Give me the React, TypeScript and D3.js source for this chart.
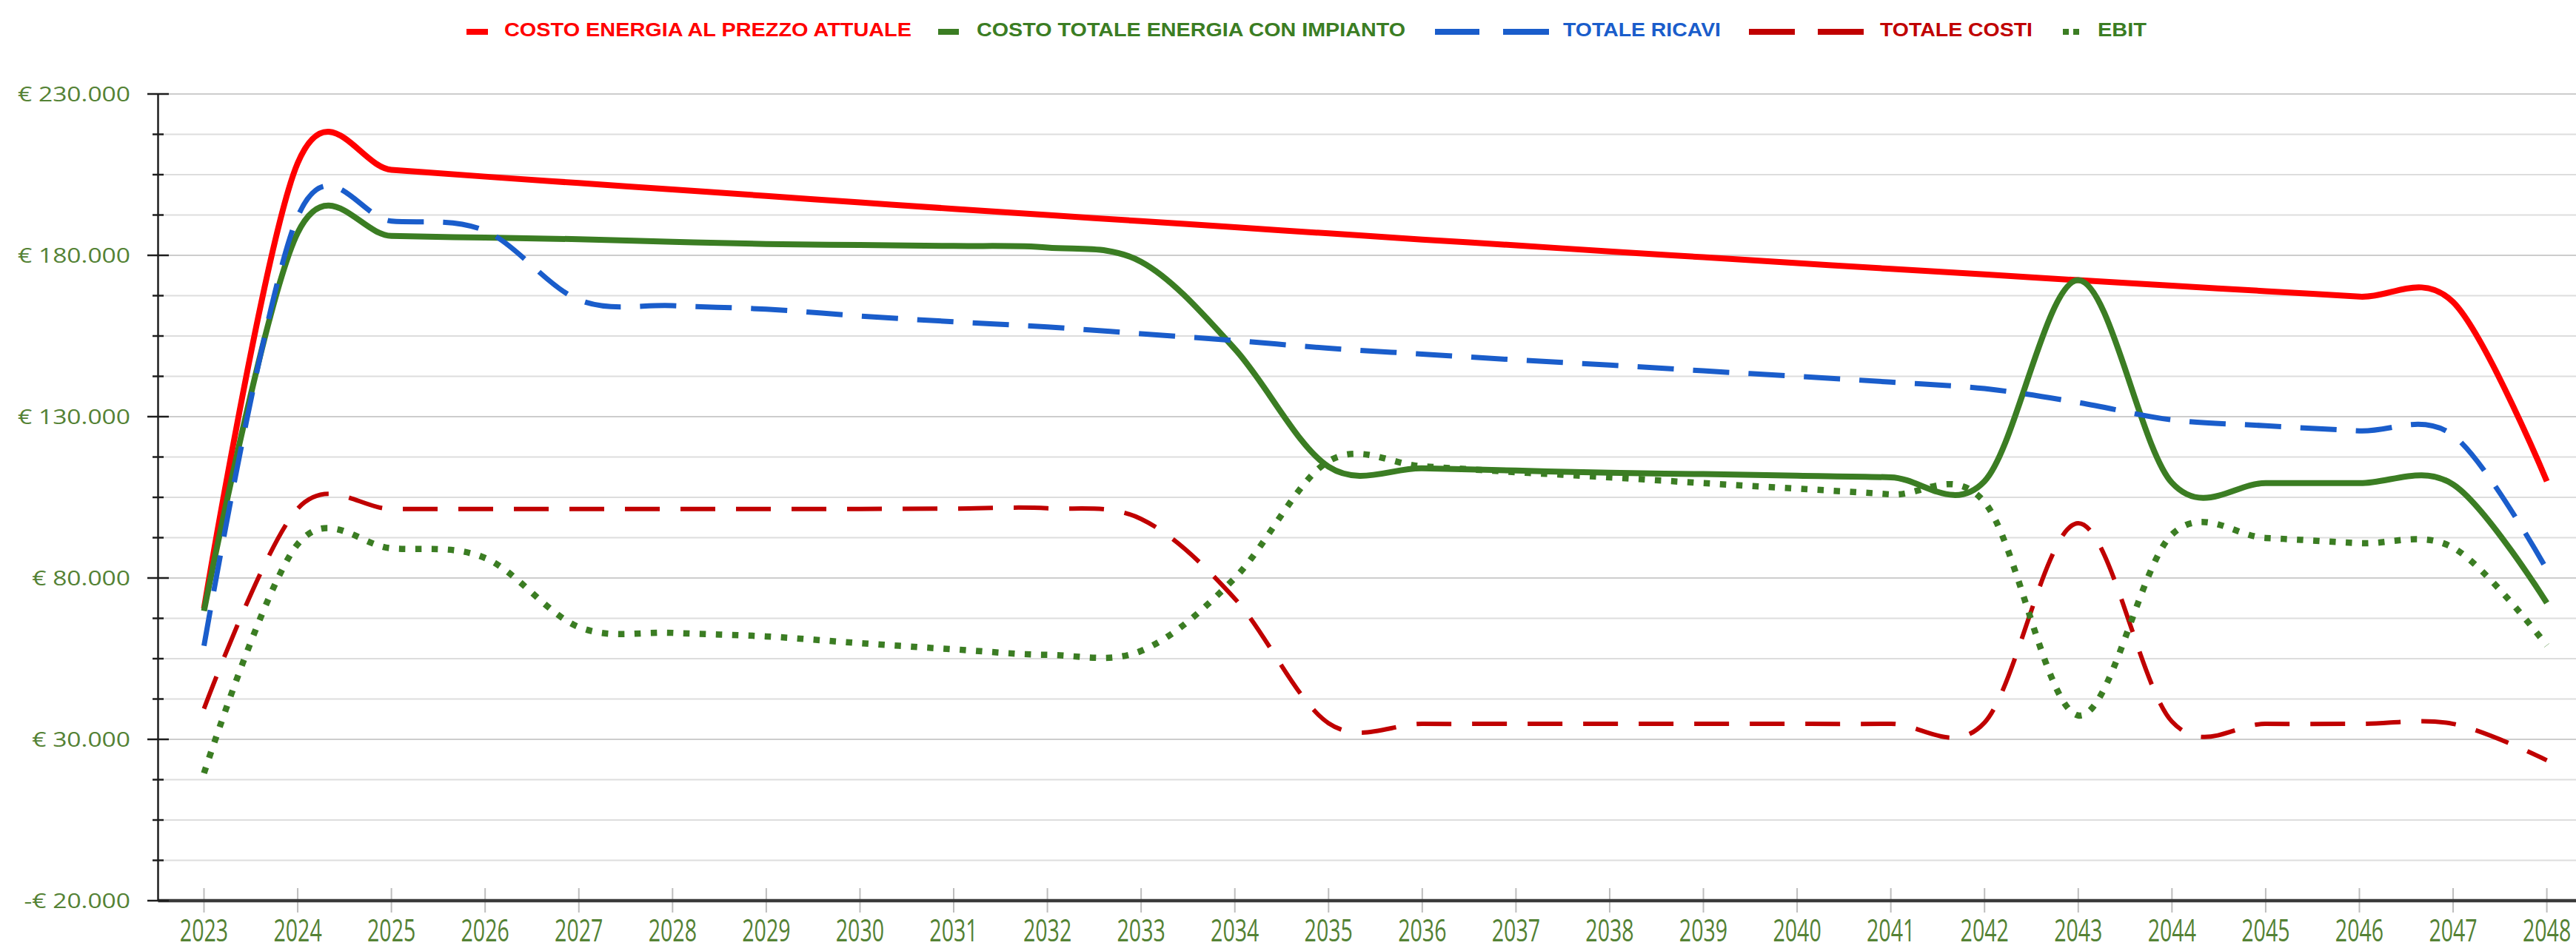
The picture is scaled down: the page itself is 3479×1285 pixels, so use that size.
import React, {useEffect, useRef} from 'react';
import * as d3 from 'd3';

// anni sull'asse x
const years = [
  '2023', '2024', '2025', '2026', '2027', '2028', '2029', '2030', '2031',
  '2032', '2033', '2034', '2035', '2036', '2037', '2038', '2039', '2040',
  '2041', '2042', '2043', '2044', '2045', '2046', '2047', '2048',
];

// valori in euro
const costoEnergiaAttuale = [
  70500, 208600, 206500, 204400, 202400, 200400, 198400, 196400, 194400,
  192500, 190600, 188700, 186800, 184900, 183100, 181200, 179400, 177600,
  175800, 174100, 172300, 170600, 168900, 167200, 165500, 110000,
];
const costoTotaleConImpianto = [
  69800, 187000, 186000, 185500, 185000, 184200, 183500, 183200, 182900,
  182400, 178000, 151000, 114500, 114000, 113300, 112600, 112200, 111700,
  111200, 110000, 172300, 109500, 109400, 109400, 109000, 72300,
];
const totaleRicavi = [
  59000, 192000, 190600, 187600, 166200, 164400, 163300, 161200, 159400,
  157800, 155700, 153600, 151200, 149400, 147600, 146000, 144200, 142500,
  140700, 138700, 134400, 129000, 127200, 125600, 124200, 82600,
];
const totaleCosti = [
  39500, 101500, 101400, 101400, 101400, 101400, 101400, 101400, 101500,
  101600, 98300, 73600, 35000, 34800, 34800, 34800, 34800, 34800,
  34800, 35200, 97000, 35500, 34800, 34800, 34800, 23500,
];
const ebit = [
  19500, 90500, 89200, 86200, 64800, 63000, 61900, 59800, 57900,
  56200, 57400, 80000, 116200, 114600, 112800, 111200, 109400, 107700,
  105900, 103500, 37400, 93500, 92400, 90800, 89400, 59100,
];

const yMin = -20000;
const yMax = 230000;
const yStep = 12500;

const W = 3479;
const H = 1285;

const series = [
  {name: 'COSTO ENERGIA AL PREZZO ATTUALE', values: costoEnergiaAttuale, color: '#FF0000', width: 8, dash: null},
  {name: 'COSTO TOTALE ENERGIA CON IMPIANTO', values: costoTotaleConImpianto, color: '#3B7D23', width: 8, dash: null},
  {name: 'TOTALE RICAVI', values: totaleRicavi, color: '#1A5DCB', width: 7, dash: '49 26'},
  {name: 'TOTALE COSTI', values: totaleCosti, color: '#C00000', width: 6, dash: '47 28'},
  {name: 'EBIT', values: ebit, color: '#3B7D23', width: 8.5, dash: '8.5 13.5'},
];

// posizione legenda (marker x0..x1, testo x e larghezza)
const legendLayout = [
  {marks: [[630, 659]], dash: null, tx: 681, tw: 550},
  {marks: [[1267, 1295]], dash: null, tx: 1319, tw: 579},
  {marks: [[1938, 1998], [2030, 2092]], dash: null, tx: 2111, tw: 213},
  {marks: [[2362, 2424], [2455, 2517]], dash: null, tx: 2539, tw: 206},
  {marks: [[2786, 2808]], dash: '8 6', tx: 2833, tw: 66},
];

const App = () => {
  const svgRef = useRef(null);

  useEffect(() => {
    const svg = d3.select(svgRef.current);
    svg.selectAll('*').remove();

    const left = 213.5;
    const x = d3.scalePoint().domain(years).range([275.5, 3439.6]);
    const y = d3.scaleLinear().domain([yMin, yMax]).range([1217, 127]);

    svg.append('rect').attr('width', W).attr('height', H).attr('fill', '#fff');

    const ticks = d3.range(yMin, yMax + 1, yStep);
    const isMajor = v => (v - yMin) % 50000 === 0;

    // griglia
    svg
      .append('g')
      .selectAll('line')
      .data(ticks.filter(t => t !== yMin))
      .enter()
      .append('line')
      .attr('x1', left)
      .attr('x2', W)
      .attr('y1', d => y(d))
      .attr('y2', d => y(d))
      .attr('stroke', d => (isMajor(d) ? '#cdcdcd' : '#dddddd'))
      .attr('stroke-width', 2);

    // tacche asse x
    svg
      .append('g')
      .selectAll('line')
      .data(years)
      .enter()
      .append('line')
      .attr('x1', d => x(d))
      .attr('x2', d => x(d))
      .attr('y1', 1200)
      .attr('y2', 1233)
      .attr('stroke', '#bdbdbd')
      .attr('stroke-width', 2);

    // asse x
    svg
      .append('line')
      .attr('x1', left)
      .attr('x2', W)
      .attr('y1', y(yMin))
      .attr('y2', y(yMin))
      .attr('stroke', '#3a3a3a')
      .attr('stroke-width', 4.5);

    // asse y
    svg
      .append('line')
      .attr('x1', left)
      .attr('x2', left)
      .attr('y1', y(yMax))
      .attr('y2', y(yMin))
      .attr('stroke', '#1e1e1e')
      .attr('stroke-width', 2.5);

    svg
      .append('g')
      .selectAll('line')
      .data(ticks)
      .enter()
      .append('line')
      .attr('x1', d => (isMajor(d) ? 199 : 206))
      .attr('x2', d => (isMajor(d) ? 228 : 221))
      .attr('y1', d => y(d))
      .attr('y2', d => y(d))
      .attr('stroke', '#1e1e1e')
      .attr('stroke-width', 2.5);

    const locale = d3.formatLocale({decimal: ',', thousands: '.', grouping: [3], currency: ['€ ', '']});
    const fmt = locale.format(',.0f');

    svg
      .append('g')
      .selectAll('g')
      .data(ticks.filter(isMajor))
      .enter()
      .append('g')
      .attr('transform', d => `translate(176,${y(d)}) scale(1.2,1)`)
      .append('text')
      .attr('text-anchor', 'end')
      .attr('dy', '0.36em')
      .attr('font-family', '"Open Sans", sans-serif')
      .attr('font-size', 28)
      .attr('fill', '#548235')
      .text(d => (d < 0 ? '-' : '') + '€ ' + fmt(Math.abs(d)));

    svg
      .append('g')
      .selectAll('g')
      .data(years)
      .enter()
      .append('g')
      .attr('transform', d => `translate(${x(d)},1272) scale(0.68,1)`)
      .append('text')
      .attr('text-anchor', 'middle')
      .attr('font-family', '"Open Sans", sans-serif')
      .attr('font-size', 42)
      .attr('fill', '#548235')
      .text(d => d);

    // linee smussate
    const line = d3
      .line()
      .x((d, i) => x(years[i]))
      .y(d => y(d))
      .curve(d3.curveCatmullRom.alpha(0));

    series.forEach(s => {
      svg
        .append('path')
        .attr('d', line(s.values))
        .attr('fill', 'none')
        .attr('stroke', s.color)
        .attr('stroke-width', s.width)
        .attr('stroke-dasharray', s.dash)
        .attr('stroke-linejoin', 'round');
    });

    // legenda
    const leg = svg.append('g');
    series.forEach((s, i) => {
      const l = legendLayout[i];
      l.marks.forEach(([a, b]) => {
        leg
          .append('line')
          .attr('x1', a)
          .attr('x2', b)
          .attr('y1', 43)
          .attr('y2', 43)
          .attr('stroke', s.color)
          .attr('stroke-width', 8)
          .attr('stroke-dasharray', l.dash);
      });
      leg
        .append('text')
        .attr('x', l.tx)
        .attr('y', 49)
        .attr('font-family', '"Liberation Sans", Arial, sans-serif')
        .attr('font-weight', 'bold')
        .attr('font-size', 26.5)
        .attr('textLength', l.tw)
        .attr('lengthAdjust', 'spacingAndGlyphs')
        .attr('fill', s.color)
        .text(s.name);
    });
  }, []);

  return (
    <div style={{position: 'absolute', left: 0, top: 0, width: W, height: H}}>
      <svg ref={svgRef} width={W} height={H} style={{display: 'block'}}></svg>
    </div>
  );
};

export default App;
